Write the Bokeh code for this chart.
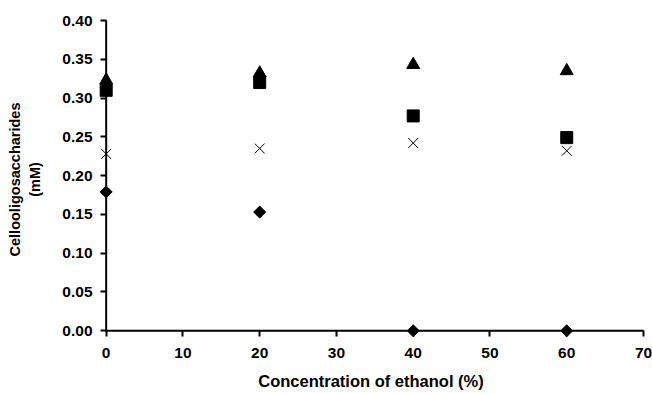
import numpy as np
from bokeh.plotting import figure
from bokeh.models import FixedTicker, NumeralTickFormatter, Range1d
from bokeh.embed import file_html
from bokeh.resources import INLINE

ethanol = [0, 20, 40, 60]
triangle_vals = [0.323, 0.332, 0.343, 0.335]
square_vals = [0.310, 0.320, 0.277, 0.249]
cross_vals = [0.228, 0.235, 0.242, 0.232]
diamond_vals = [0.179, 0.153, 0.000, 0.000]

x_ticks = [0, 10, 20, 30, 40, 50, 60, 70]
y_ticks = [0.00, 0.05, 0.10, 0.15, 0.20, 0.25, 0.30, 0.35, 0.40]

FONT = "Liberation Sans"

p = figure(width=652, height=394, output_backend="svg", toolbar_location=None,
           x_range=Range1d(-1, 70), y_range=Range1d(-0.01, 0.40),
           min_border_left=98, min_border_right=9, min_border_top=20, min_border_bottom=56)
p.outline_line_color = None
p.xgrid.visible = False
p.ygrid.visible = False
p.background_fill_color = "white"

# axis lines along x=0 and y=0, from the tick arrays
p.segment(x0=[x_ticks[0], x_ticks[0]], y0=[y_ticks[0], y_ticks[0]],
          x1=[x_ticks[0], x_ticks[-1]], y1=[y_ticks[-1], y_ticks[0]],
          line_color="black", line_width=2, line_cap="square")

p.scatter(ethanol, triangle_vals, marker="triangle", size=13, color="black")
p.scatter(ethanol, square_vals, marker="square", size=12, color="black")
p.scatter(ethanol, cross_vals, marker="x", size=14, line_color="black", line_width=1)
p.scatter(ethanol, diamond_vals, marker="square", angle=np.pi / 4, size=8.5, color="black")

for ax in (p.xaxis[0], p.yaxis[0]):
    ax.axis_line_color = None
    ax.major_tick_line_width = 2
    ax.major_tick_line_color = "black"
    ax.major_tick_out = -2
    ax.major_tick_in = 8
    ax.minor_tick_line_color = None
    ax.major_label_text_font = FONT
    ax.major_label_text_font_style = "bold"
    ax.major_label_text_font_size = "15.5px"
    ax.major_label_text_color = "black"
    ax.axis_label_text_font = FONT
    ax.axis_label_text_font_style = "bold"
    ax.axis_label_text_color = "black"

xa = p.xaxis[0]
xa.ticker = FixedTicker(ticks=x_ticks)
xa.major_label_standoff = 9
xa.axis_label = "Concentration of ethanol (%)"
xa.axis_label_text_font_size = "16.5px"
xa.axis_label_standoff = 11

ya = p.yaxis[0]
ya.ticker = FixedTicker(ticks=y_ticks)
ya.formatter = NumeralTickFormatter(format="0.00")
ya.major_label_standoff = 6
ya.axis_label = "Cellooligosaccharides\n(mM)"
ya.axis_label_text_font_size = "14.5px"
ya.axis_label_text_line_height = 1.3
ya.axis_label_standoff = 16

open("out.html", "w").write(file_html(p, INLINE))
